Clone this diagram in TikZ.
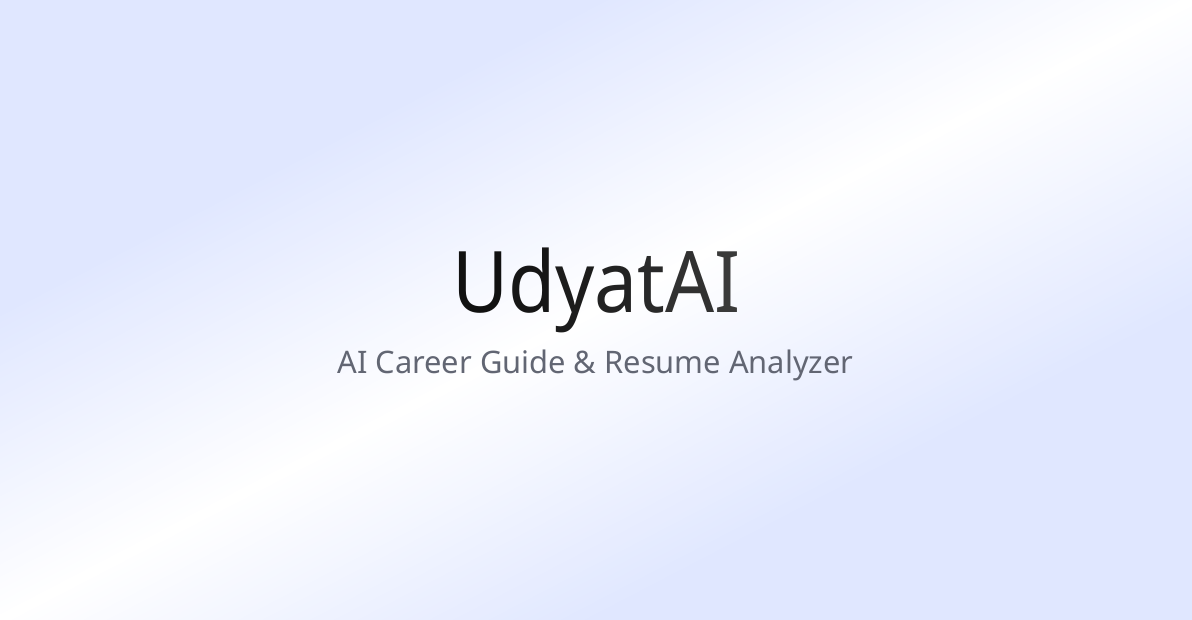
\documentclass[tikz,border=0pt]{standalone}
\usepackage{fontspec}
\setmainfont{Noto Sans}
\definecolor{lav}{HTML}{E0E7FF}
\definecolor{subgray}{HTML}{626673}
\definecolor{tA}{HTML}{111111}
\definecolor{tB}{HTML}{3A3A3A}
\tikzset{
  strip/.style={draw=none},
  titletext/.style={inner sep=0pt, anchor=base, font=\fontsize{85}{100}\selectfont},
  subtext/.style={inner sep=0pt, anchor=base, text=subgray, font=\fontsize{31}{38}\selectfont}
}
\begin{document}
\begin{tikzpicture}[x=1pt,y=1pt]
\def\W{1192}\def\H{620}
\useasboundingbox (0,0) rectangle (\W,\H);
\fill[lav] (0,0) rectangle (\W,\H);
\begin{scope}
\clip (0,0) rectangle (\W,\H);
% t = (X/W + 1 - Y/H)/2 ; isoline X/W - Y/H = 2t-1
\foreach \i in {0,...,99}{
  \pgfmathsetmacro{\ta}{0.25+0.005*\i}
  \pgfmathsetmacro{\tb}{\ta+0.0062}
  \pgfmathsetmacro{\tm}{\ta+0.0025}
  \pgfmathsetmacro{\p}{100*abs(\tm-0.5)/0.25}
  \colorlet{cc}{lav!\p!white}
  \fill[cc, strip] ({\W*(2*\ta-2)},{-\H}) -- ({\W*(2*\ta+1)},{2*\H}) -- ({\W*(2*\tb+1)},{2*\H}) -- ({\W*(2*\tb-2)},{-\H}) -- cycle;
}
\end{scope}
\node[titletext] (title) at (596.5,{\H-313}) {\scalebox{0.905}[1]{\textcolor{tA}{U}\textcolor{tA!88!tB}{d}\textcolor{tA!74!tB}{y}\textcolor{tA!58!tB}{a}\textcolor{tA!42!tB}{t}\textcolor{tA!22!tB}{A}\textcolor{tB}{I}}};
\node[subtext] (sub) at (595.5,{\H-374}) {\scalebox{0.995}[1]{AI Career Guide \& Resume Analyzer}};
\end{tikzpicture}
\end{document}
